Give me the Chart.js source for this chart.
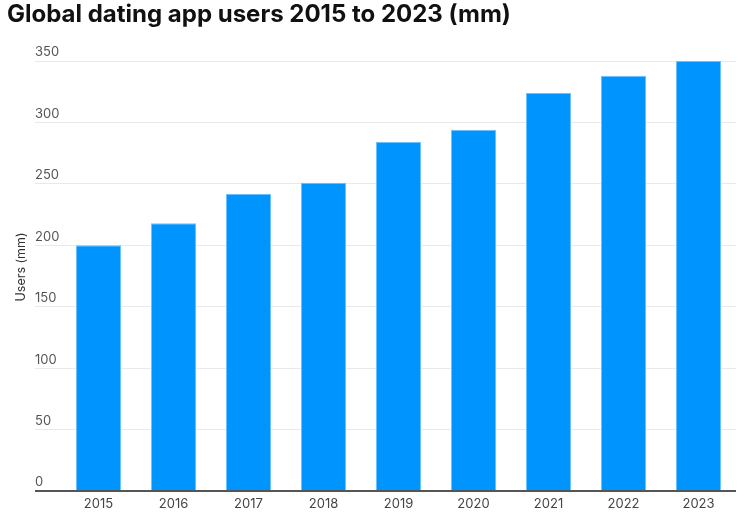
<!DOCTYPE html>
<html>
<head>
<meta charset="utf-8">
<script src="https://cdn.jsdelivr.net/npm/chart.js@4/dist/chart.umd.min.js"></script>
<style>
  html, body { margin: 0; padding: 0; background: #fff; }
  #wrap { width: 753px; height: 520px; position: relative; }
</style>
</head>
<body>
<div id="wrap"><canvas id="c"></canvas></div>
<script>
const chartTitle = "Global dating app users 2015 to 2023 (mm)";
const yAxisTitle = "Users (mm)";
const years = ["2015", "2016", "2017", "2018", "2019", "2020", "2021", "2022", "2023"];
const users = [200, 218, 242, 251, 284, 294, 324, 338, 350];
const yTicks = [0, 50, 100, 150, 200, 250, 300, 350];

const FONT = "Inter, 'Noto Sans', sans-serif";

const overlay = {
  id: 'overlay',
  afterDraw(chart) {
    const ctx = chart.ctx;
    const y = chart.scales.y;
    ctx.save();
    // main title
    ctx.fillStyle = '#111';
    ctx.font = "bold 24px " + FONT;
    ctx.textAlign = 'left';
    ctx.textBaseline = 'middle';
    ctx.fillText(chartTitle, 7, 15);
    // y tick labels above gridlines
    ctx.fillStyle = '#555';
    ctx.font = "13px " + FONT;
    ctx.textBaseline = 'middle';
    yTicks.forEach(v => {
      ctx.fillText(String(v), 35, y.getPixelForValue(v) - 8.5);
    });
    // y axis title
    ctx.translate(21, 267);
    ctx.rotate(-Math.PI / 2);
    ctx.textAlign = 'center';
    ctx.fillStyle = '#333';
    ctx.font = "12.5px " + FONT;
    ctx.fillText(yAxisTitle, 0, 0);
    ctx.restore();
  }
};

new Chart(document.getElementById('c'), {
  type: 'bar',
  data: {
    labels: years,
    datasets: [{
      data: users,
      backgroundColor: '#0094ff',
      borderColor: '#6cc2ff',
      borderWidth: 1,
      barPercentage: 0.6,
      categoryPercentage: 1.0
    }]
  },
  options: {
    responsive: true,
    maintainAspectRatio: false,
    animation: false,
    layout: { padding: { top: 61, left: 0, right: 17, bottom: 0 } },
    plugins: {
      legend: { display: false },
      title: { display: false },
      tooltip: { enabled: false }
    },
    scales: {
      x: {
        grid: { display: false, drawTicks: false },
        border: { display: false },
        ticks: { color: '#444', font: { family: FONT, size: 13 }, padding: 5 },
        afterFit(scale) { scale.height = 29; }
      },
      y: {
        min: 0,
        max: 350,
        afterBuildTicks(scale) { scale.ticks = yTicks.map(v => ({ value: v })); },
        ticks: { display: false },
        border: { display: false },
        grid: {
          drawTicks: true,
          tickLength: 26,
          color: ctx => (ctx.tick && ctx.tick.value === 0) ? '#555' : '#e9e9e9',
          tickColor: ctx => (ctx.tick && ctx.tick.value === 0) ? '#555' : '#e9e9e9',
          lineWidth: ctx => (ctx.tick && ctx.tick.value === 0) ? 2 : 1
        },
        afterFit(scale) { scale.width = 61; }
      }
    }
  },
  plugins: [overlay]
});
</script>
</body>
</html>
